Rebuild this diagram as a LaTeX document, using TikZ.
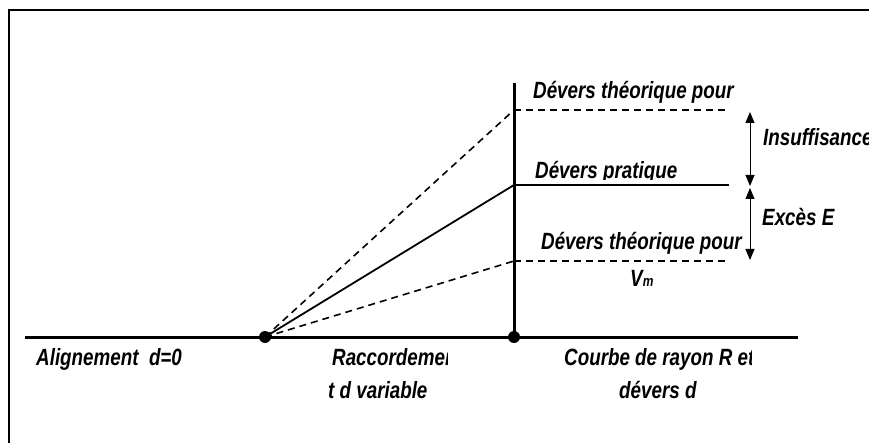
\documentclass[tikz,border=0pt]{standalone}
\usepackage{fontspec}
\setmainfont{Liberation Sans}[FakeStretch=0.80]
\usetikzlibrary{arrows.meta}
\begin{document}
\begin{tikzpicture}[x=1pt,y=-1pt,
  lbl/.style={anchor=base west,inner sep=0pt,font=\fontsize{23.5}{25}\selectfont\bfseries\itshape},
  thick axis/.style={line width=3pt},
  dash line/.style={line width=1.6pt,dash pattern=on 7pt off 5pt},
  sol line/.style={line width=1.8pt},
  arr/.style={line width=1pt,{Triangle[length=11pt,width=9pt]}-{Triangle[length=11pt,width=9pt]}},
  dot/.style={circle,fill=black,inner sep=0pt,minimum size=12pt}]
\useasboundingbox (0,0) rectangle (869,443);
% frame (right and bottom sides lie outside the picture)
\draw[line width=1.8pt] (9,443) -- (9,10) -- (869,10);
% points
\coordinate (L) at (25,337);
\coordinate (Rt) at (798,337);
\node[dot] (A) at (265,337) {};
\node[dot] (B) at (514,337) {};
\coordinate (Vtop) at (514,83);
\coordinate (P1) at (514,110);
\coordinate (P2) at (514,185);
\coordinate (P3) at (514,261);
\coordinate (Q1) at (729,110);
\coordinate (Q2) at (729,185);
\coordinate (Q3) at (729,261);
% axis and vertical
\draw[thick axis] (L) -- (Rt);
\draw[thick axis] (B.center) -- (Vtop);
% horizontal levels
\draw[dash line] (P1) -- (Q1);
\draw[sol line] (P2) -- (Q2);
\draw[dash line] (P3) -- (Q3);
% slopes
\draw[dash line] (A.center) -- (P1);
\draw[sol line] (A.center) -- (P2);
\draw[dash line] (A.center) -- (P3);
% arrows
\coordinate (U1) at (750,112);
\coordinate (U2) at (750,186);
\coordinate (D1) at (750,188);
\coordinate (D2) at (750,260);
\draw[arr] (U1) -- (U2);
\draw[arr] (D1) -- (D2);
% labels
\node[lbl] (t1) at (533,99) {Dévers théorique pour};
\begin{scope}
\clip (520,150) rectangle (700,180);
\node[lbl] (t2) at (535,179) {Dévers pratique};
\end{scope}
\node[lbl] (t3) at (541,250) {Dévers théorique pour};
\node[lbl] (t4) at (630,287) {V\fontsize{15}{15}\selectfont m};
\node[lbl] (t5) at (763,146) {Insuffisance};
\node[lbl] (t6) at (762,226) {Excès E};
\node[lbl] (t7) at (36,365) {Alignement\ \ d=0};
\begin{scope}
\clip (320,340) rectangle (447,380);
\node[lbl] (t8) at (332,365) {Raccordemen};
\end{scope}
\node[lbl] (t9) at (328,398) {t d variable};
\begin{scope}
\clip (550,340) rectangle (751,380);
\node[lbl] (t10) at (564,365) {Courbe de rayon R et};
\end{scope}
\node[lbl] (t11) at (619,398) {dévers d};
\end{tikzpicture}
\end{document}
